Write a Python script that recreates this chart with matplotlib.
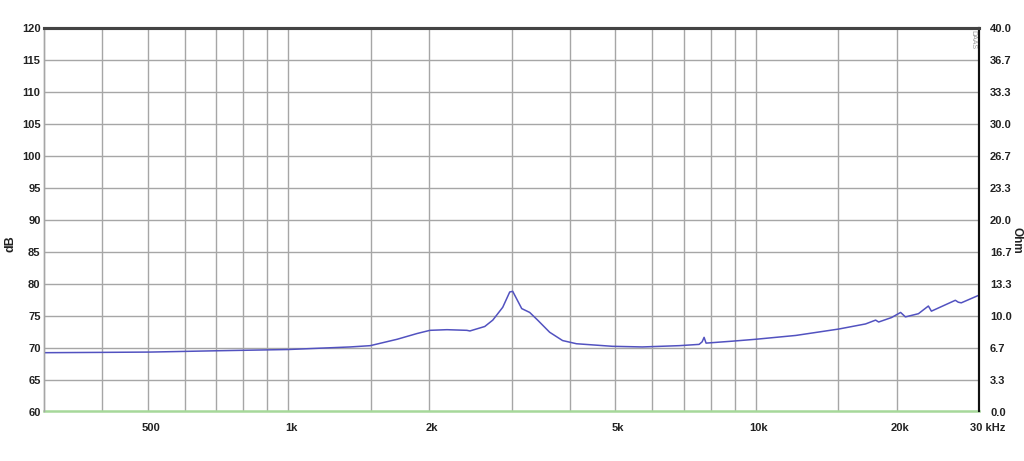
import matplotlib
matplotlib.use("Agg")
import matplotlib.pyplot as plt
import matplotlib.transforms as mtransforms
import numpy as np

plt.rcParams["font.family"] = ["Liberation Sans", "DejaVu Sans"]

# Frequency response data (Hz, dB)
freq_hz = [300, 400, 508, 700, 1000, 1356, 1496, 1708, 1884, 2008, 2183, 2408, 2444,
           2630, 2736, 2873, 2974, 3018, 3078, 3155, 3281, 3412, 3620, 3858, 4132,
           4931, 5714, 6851, 7559, 7671, 7746, 7822, 8889, 9990, 12170, 15030,
           17160, 18030, 18300, 19500, 20390, 20880, 22260, 23380, 23730, 26700,
           27090, 27490, 30000]
level_db = [69.2, 69.25, 69.3, 69.5, 69.7, 70.1, 70.3, 71.3, 72.2, 72.7, 72.8, 72.7, 72.6,
            73.3, 74.3, 76.3, 78.7, 78.8, 77.6, 76.1, 75.5, 74.3, 72.4, 71.1, 70.6,
            70.2, 70.1, 70.3, 70.5, 70.9, 71.6, 70.7, 71.0, 71.3, 71.9, 72.9,
            73.7, 74.3, 74.0, 74.7, 75.5, 74.8, 75.3, 76.5, 75.7, 77.4,
            77.1, 77.0, 78.2]

# Axis ticks
db_ticks = [60, 65, 70, 75, 80, 85, 90, 95, 100, 105, 110, 115, 120]
ohm_labels = ["0.0", "3.3", "6.7", "10.0", "13.3", "16.7", "20.0", "23.3",
              "26.7", "30.0", "33.3", "36.7", "40.0"]
x_tick_values = [500, 1000, 2000, 5000, 10000, 20000]
x_tick_labels = ["500", "1k", "2k", "5k", "10k", "20k"]
x_grid_values = [400, 500, 600, 700, 800, 900, 1000, 1500, 2000, 3000, 4000, 5000,
                 6000, 7000, 8000, 9000, 10000, 15000, 20000]
baseline_db = [60, 60]
baseline_hz = [300, 30000]

fig = plt.figure(figsize=(10.24, 4.61), dpi=100)
ax = fig.add_axes([44 / 1024, (461 - 411.5) / 461, (979 - 44) / 1024, (411.5 - 28) / 461])

ax.set_xscale("log")
ax.set_xlim(300, 30000)
ax.set_ylim(60, 120)

grid_col = "#a6a6a6"
for gx in x_grid_values:
    ax.axvline(gx, color=grid_col, lw=1.0, zorder=1)
for gy in db_ticks[1:-1]:
    ax.axhline(gy, color=grid_col, lw=1.0, zorder=1)

ax.plot(baseline_hz, baseline_db, color="#a6d89a", lw=1.8, zorder=3, clip_on=False)
ax.plot(freq_hz, level_db, color="#5252c0", lw=1.1, zorder=4)

fs = 8
ax.set_yticks(db_ticks)
ax.set_yticklabels([str(v) for v in db_ticks], fontsize=fs, fontweight="bold", color="#222222")
ax.set_xticks(x_tick_values)
ax.set_xticklabels(x_tick_labels, fontsize=fs, fontweight="bold", color="#222222")
ax.xaxis.set_minor_locator(matplotlib.ticker.NullLocator())
ax.xaxis.set_minor_formatter(matplotlib.ticker.NullFormatter())
ax.tick_params(axis="both", length=0)
ax.tick_params(axis="x", pad=8)
ax.tick_params(axis="y", pad=2.5)
offset = mtransforms.ScaledTranslation(3 / 100, 0, fig.dpi_scale_trans)
for lbl in ax.get_xticklabels():
    lbl.set_transform(lbl.get_transform() + offset)

ax.annotate("30 kHz", xy=(30000, 0), xycoords=("data", "axes fraction"),
            xytext=(6, -12), textcoords="offset points", ha="center", va="center",
            fontsize=fs, fontweight="bold", color="#222222")

ax2 = ax.twinx()
ax2.set_ylim(60, 120)
ax2.set_yticks(db_ticks)
ax2.set_yticklabels(ohm_labels, fontsize=fs, fontweight="bold", color="#222222")
ax2.tick_params(axis="y", length=0, pad=8)

for a in (ax, ax2):
    a.spines["top"].set_color("#444444")
    a.spines["top"].set_linewidth(2.2)
    a.spines["left"].set_color("#a6a6a6")
    a.spines["left"].set_linewidth(1.0)
    a.spines["right"].set_color("#111111")
    a.spines["right"].set_linewidth(1.5)
    a.spines["bottom"].set_visible(False)

fig.text(10 / 1024, 1 - 244 / 461, "dB", rotation=90, ha="center", va="center",
         fontsize=9, fontweight="bold", color="#222222")
fig.text(1017 / 1024, 1 - 240 / 461, "Ohm", rotation=-90, ha="center", va="center",
         fontsize=8.5, fontweight="bold", color="#222222")
fig.text(973 / 1024, 1 - 40 / 461, "DAAS", rotation=-90, ha="center", va="center",
         fontsize=5, color="#999999")

fig.savefig("out.png", dpi=100)
